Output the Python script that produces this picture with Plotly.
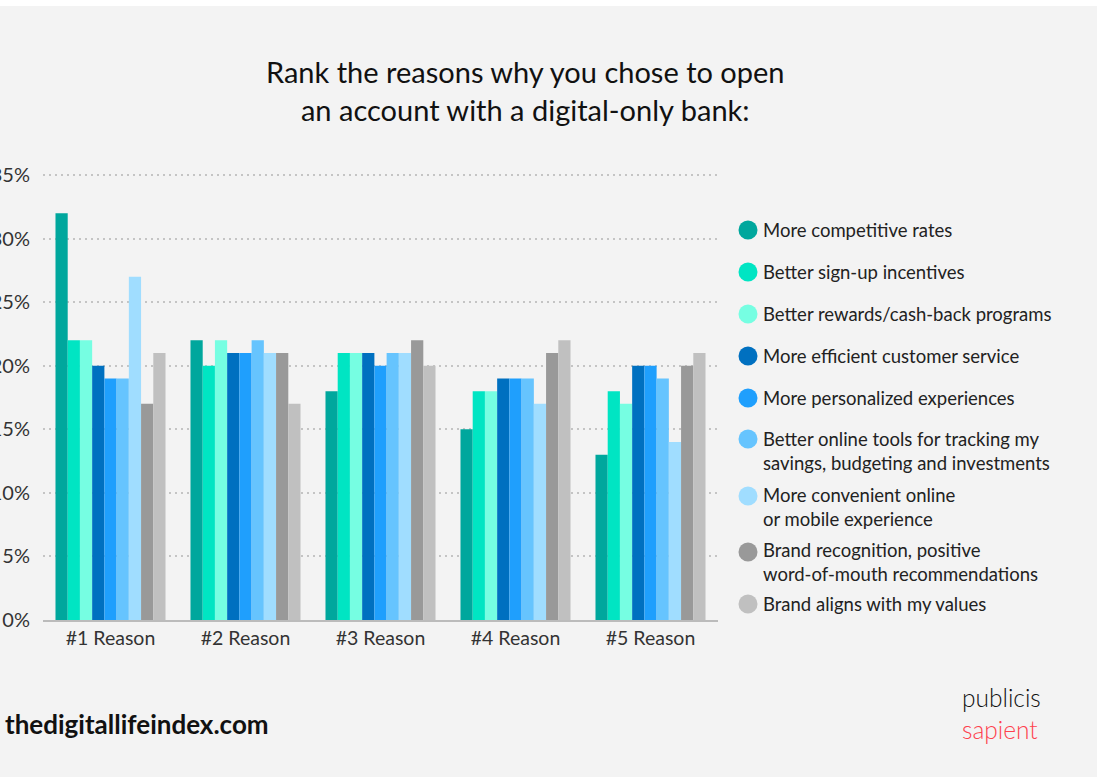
import plotly.graph_objects as go

# Rank positions on the x axis
categories = ["#1 Reason", "#2 Reason", "#3 Reason", "#4 Reason", "#5 Reason"]

# Share of respondents (%) per reason, one list per reason, ordered by rank
more_competitive_rates = [32, 22, 18, 15, 13]
better_signup_incentives = [22, 20, 21, 18, 18]
better_rewards_cashback = [22, 22, 21, 18, 17]
more_efficient_service = [20, 21, 21, 19, 20]
more_personalized = [19, 21, 20, 19, 20]
better_online_tools = [19, 22, 21, 19, 19]
more_convenient_online = [27, 21, 21, 17, 14]
brand_recognition = [17, 21, 22, 21, 20]
brand_aligns_values = [21, 17, 20, 22, 21]

series_names = [
    "More competitive rates",
    "Better sign-up incentives",
    "Better rewards/cash-back programs",
    "More efficient customer service",
    "More personalized experiences",
    "Better online tools for tracking my<br>savings, budgeting and investments",
    "More convenient online<br>or mobile experience",
    "Brand recognition, positive<br>word-of-mouth recommendations",
    "Brand aligns with my values",
]
series_values = [
    more_competitive_rates,
    better_signup_incentives,
    better_rewards_cashback,
    more_efficient_service,
    more_personalized,
    better_online_tools,
    more_convenient_online,
    brand_recognition,
    brand_aligns_values,
]
series_colors = [
    "#00a79d", "#00e5c3", "#76fee2", "#0070c0", "#1f9ffd",
    "#66c4fe", "#a0ddff", "#999999", "#c0c0c0",
]

y_ticks = [0, 5, 10, 15, 20, 25, 30, 35]
y_tick_labels = ["0%", "5%", "10%", "15%", "20%", "25%", "30%", "35%"]

# Page geometry (pixels)
W, H = 1101, 777
PL, PR, PT, PB = 43, 718, 168, 620
Y_TOP = 35 * (PB - PT) / 445.0   # 445 px per 35 %

def px_x(px):
    return (px - PL) / (PR - PL)

def px_y(py):
    return (PB - py) / (PB - PT)

FONT = "Lato"
TEXT = "#222222"

fig = go.Figure()
for name, vals, col in zip(series_names, series_values, series_colors):
    fig.add_trace(go.Bar(
        x=categories, y=vals, name=name.replace("<br>", " "),
        marker=dict(color=col, line=dict(width=0)),
        showlegend=False,
    ))

shapes = [
    # white strips round the grey card
    dict(type="rect", xref="paper", yref="paper", layer="above",
         x0=px_x(0), x1=px_x(W), y0=px_y(0), y1=px_y(6),
         fillcolor="white", line=dict(width=0)),
    dict(type="rect", xref="paper", yref="paper", layer="above",
         x0=px_x(1097), x1=px_x(W), y0=px_y(0), y1=px_y(H),
         fillcolor="white", line=dict(width=0)),
]
annotations = []

# Legend: circle swatches with labels
legend_rows = [
    (230, 230), (272, 272), (314, 314), (356, 356), (398, 398),
    (439, 451), (496, 507), (552, 562), (604, 604),
]
for (cy, ty), name, col in zip(legend_rows, series_names, series_colors):
    shapes.append(dict(
        type="circle", xref="paper", yref="paper",
        xsizemode="pixel", ysizemode="pixel",
        xanchor=px_x(748), yanchor=px_y(cy),
        x0=-9.5, x1=9.5, y0=-9.5, y1=9.5,
        fillcolor=col, line=dict(width=0),
    ))
    annotations.append(dict(
        xref="paper", yref="paper", x=px_x(761), y=px_y(ty),
        xanchor="left", yanchor="middle", align="left", showarrow=False,
        text=name, font=dict(family=FONT, size=18.5, color=TEXT),
    ))

# Title
annotations.append(dict(
    xref="paper", yref="paper", x=px_x(525), y=px_y(90),
    xanchor="center", yanchor="middle", align="center", showarrow=False,
    text="Rank the reasons why you chose to open<br>an account with a digital-only bank:",
    font=dict(family=FONT, size=29, color="#111111"),
))

# Footer
annotations.append(dict(
    xref="paper", yref="paper", x=px_x(3), y=px_y(724),
    xanchor="left", yanchor="middle", showarrow=False,
    text="<b>thedigitallifeindex.com</b>",
    font=dict(family=FONT, size=26, color="#111111"),
))
annotations.append(dict(
    xref="paper", yref="paper", x=px_x(960), y=px_y(697),
    xanchor="left", yanchor="middle", showarrow=False,
    text="publicis",
    font=dict(family=FONT, size=24.5, color="#111111", weight=300),
))
annotations.append(dict(
    xref="paper", yref="paper", x=px_x(960), y=px_y(729),
    xanchor="left", yanchor="middle", showarrow=False,
    text="sapient",
    font=dict(family=FONT, size=24.5, color="#fe414d", weight=300),
))

fig.update_layout(
    width=W, height=H,
    margin=dict(l=PL, r=W - PR, t=PT, b=H - PB, pad=0),
    paper_bgcolor="#f3f3f3",
    plot_bgcolor="#f3f3f3",
    barmode="group",
    bargap=0.185,
    bargroupgap=0,
    showlegend=False,
    shapes=shapes,
    annotations=annotations,
    font=dict(family=FONT, color=TEXT),
    xaxis=dict(
        showline=True, linecolor="#bbbbbb", linewidth=2,
        showgrid=False, ticks="", automargin=False,
        tickfont=dict(family=FONT, size=19.5, color="#333333"),
        fixedrange=True,
    ),
    yaxis=dict(
        range=[0, Y_TOP], tickvals=y_ticks, ticktext=y_tick_labels,
        showgrid=True, gridcolor="#c4c4c4", gridwidth=2,
        griddash="2px,4px", zeroline=False, showline=False,
        ticks="", ticklabelstandoff=12, automargin=False,
        tickfont=dict(family=FONT, size=20, color="#333333"),
        fixedrange=True,
    ),
)

fig.write_html("out.html")
